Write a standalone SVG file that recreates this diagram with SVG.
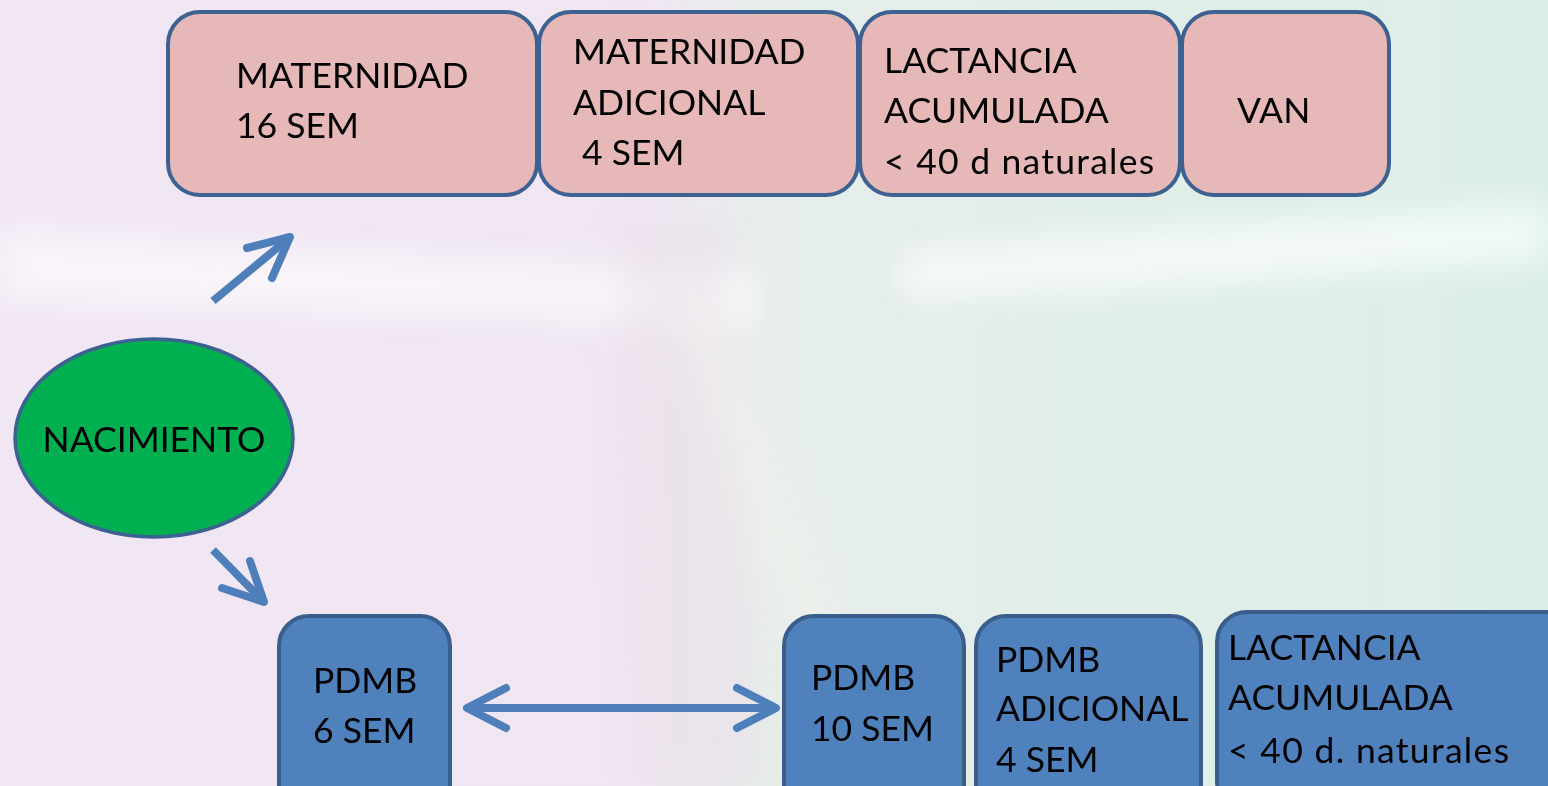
<svg xmlns="http://www.w3.org/2000/svg" width="1548" height="786" viewBox="0 0 1548 786">
<style>
.pink{fill:#E6B8B7;stroke:#3D6191;stroke-width:4}
.blue{fill:#4F81BD;stroke:#3A5E8C;stroke-width:4}
.t{font-family:Lato,"Open Sans",sans-serif;font-size:35.5px;fill:#000}
.con{fill:none;stroke:#4E7FBB;stroke-width:8;stroke-linecap:round;stroke-linejoin:round}
.conline{fill:none;stroke:#4E7FBB;stroke-width:8}
</style>
<defs>
<linearGradient id="bg" x1="0" y1="0" x2="1" y2="0">
<stop offset="0" stop-color="#F1E7F4"/>
<stop offset="0.42" stop-color="#EFE6F2"/>
<stop offset="0.5" stop-color="#E6EDEA"/>
<stop offset="1" stop-color="#DBEFE7"/>
</linearGradient>
<filter id="blur" x="-20%" y="-50%" width="140%" height="200%"><feGaussianBlur stdDeviation="16"/></filter>
</defs>
<rect width="1548" height="786" fill="url(#bg)"/>
<g filter="url(#blur)" opacity="0.8">
<path d="M0 230 C300 250 500 260 760 270 L760 330 C500 320 250 310 0 300 Z" fill="#FFFFFF" opacity="0.7"/>
<path d="M900 250 C1150 230 1350 215 1548 205 L1548 260 C1350 275 1150 290 900 300 Z" fill="#FFFFFF" opacity="0.8"/>
<path d="M620 230 L720 230 L760 786 L640 786 Z" fill="#E9DEE6" opacity="0.5"/>
<path d="M700 300 C760 400 820 500 900 786 L820 786 C760 560 720 450 680 330 Z" fill="#F4F3EE" opacity="0.5"/>
</g>

<g id="connectors">
<path class="conline" d="M213 301 L288 239"/>
<path class="con" d="M247 248 L290 237 L272 278"/>
<path class="conline" d="M213 550 L262 600"/>
<path class="con" d="M222 588 L264 602 L250 561"/>
<path class="conline" d="M470 708 L772 708"/>
<path class="con" d="M506 688 L467 708 L506 728"/>
<path class="con" d="M737 688 L776 708 L737 728"/>
</g>

<g id="n-maternidad">
<rect class="pink" x="168" y="12" width="369" height="183" rx="32"/>
<text class="t" x="236" y="88">MATERNIDAD</text>
<text class="t" x="236" y="138">16 SEM</text>
</g>
<g id="n-maternidad-adicional">
<rect class="pink" x="539" y="12" width="319" height="183" rx="32"/>
<text class="t" x="573" y="64">MATERNIDAD</text>
<text class="t" x="573" y="115">ADICIONAL</text>
<text class="t" x="573" y="165" xml:space="preserve"> 4 SEM</text>
</g>
<g id="n-lactancia-1">
<rect class="pink" x="860" y="12" width="320" height="183" rx="32"/>
<text class="t" x="884" y="73">LACTANCIA</text>
<text class="t" x="884" y="123">ACUMULADA</text>
<text class="t" x="884" y="174" textLength="270" lengthAdjust="spacing">&lt; 40 d naturales</text>
</g>
<g id="n-van">
<rect class="pink" x="1182" y="12" width="207" height="183" rx="32"/>
<text class="t" x="1237" y="123">VAN</text>
</g>

<g id="n-nacimiento">
<ellipse cx="154" cy="438" rx="139" ry="99" fill="#00B050" stroke="#3D6191" stroke-width="3.5"/>
<text class="t" x="154" y="452" text-anchor="middle">NACIMIENTO</text>
</g>

<g id="n-pdmb6">
<rect class="blue" x="279" y="616" width="171" height="200" rx="30"/>
<text class="t" x="313" y="693">PDMB</text>
<text class="t" x="313" y="743">6 SEM</text>
</g>
<g id="n-pdmb10">
<rect class="blue" x="784" y="616" width="180" height="200" rx="30"/>
<text class="t" x="811" y="690">PDMB</text>
<text class="t" x="811" y="741">10 SEM</text>
</g>
<g id="n-pdmb-adicional">
<rect class="blue" x="976" y="616" width="225" height="200" rx="30"/>
<text class="t" x="996" y="672">PDMB</text>
<text class="t" x="996" y="721">ADICIONAL</text>
<text class="t" x="996" y="772">4 SEM</text>
</g>
<g id="n-lactancia-2">
<rect class="blue" x="1217" y="612" width="360" height="200" rx="30"/>
<text class="t" x="1228" y="660">LACTANCIA</text>
<text class="t" x="1228" y="710">ACUMULADA</text>
<text class="t" x="1228" y="763" textLength="281" lengthAdjust="spacing">&lt; 40 d. naturales</text>
</g>
</svg>
